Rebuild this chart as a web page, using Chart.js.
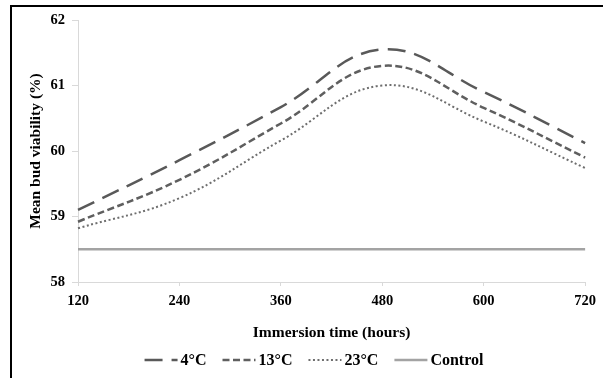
<!DOCTYPE html>
<html>
<head>
<meta charset="utf-8">
<script src="https://cdn.jsdelivr.net/npm/chart.js@4"></script>
<style>
  html, body { margin: 0; padding: 0; background: #fff; }
  #wrap { position: relative; width: 603px; height: 378px; overflow: hidden; }
  #frame { position: absolute; left: 10px; top: 5px; width: 700px; height: 500px; border-top: 2px solid #000; border-left: 2px solid #000; pointer-events: none; }
  canvas { position: absolute; left: 0; top: 0; }
</style>
</head>
<body>
<div id="wrap">
  <canvas id="c" width="603" height="378"></canvas>
  <div id="frame"></div>
</div>
<script>
const categories = ['120', '240', '360', '480', '600', '720'];
const series4 = [59.1, 59.86, 60.67, 61.55, 60.9, 60.12];
const series13 = [58.92, 59.56, 60.42, 61.3, 60.66, 59.9];
const series23 = [58.82, 59.28, 60.16, 61.0, 60.45, 59.74];
const seriesControl = [58.5, 58.5, 58.5, 58.5, 58.5, 58.5];
const seriesNames = ['4°C', '13°C', '23°C', 'Control'];
const yTicks = [58, 59, 60, 61, 62];

const serif = "'Liberation Serif', 'Times New Roman', serif";

const lineLegend = {
  id: 'lineLegend',
  afterDraw(chart, args, opts) {
    const ctx = chart.ctx;
    ctx.save();
    ctx.font = 'bold ' + opts.fontSize + 'px ' + serif;
    ctx.textBaseline = 'middle';
    ctx.textAlign = 'left';
    const items = chart.data.datasets.map(ds => ({ ds, w: ctx.measureText(ds.label).width }));
    const total = items.reduce((a, it) => a + opts.lineLen + opts.gap + it.w, 0) + opts.spacing * (items.length - 1);
    let x = opts.centerX - total / 2;
    const y = opts.y;
    items.forEach(it => {
      ctx.beginPath();
      ctx.strokeStyle = it.ds.borderColor;
      ctx.lineWidth = it.ds.borderWidth;
      ctx.setLineDash(it.ds.borderDash || []);
      ctx.lineCap = 'butt';
      ctx.moveTo(x, y);
      ctx.lineTo(x + opts.lineLen, y);
      ctx.stroke();
      ctx.setLineDash([]);
      x += opts.lineLen + opts.gap;
      ctx.fillStyle = '#000';
      ctx.fillText(it.ds.label, x, y + 1);
      x += it.w + opts.spacing;
    });
    ctx.restore();
  }
};

new Chart(document.getElementById('c'), {
  type: 'line',
  data: {
    labels: categories,
    datasets: [
      { label: seriesNames[0], data: series4, borderColor: '#595959', borderWidth: 2.5, borderDash: [18, 9], tension: 0.4, pointRadius: 0, fill: false },
      { label: seriesNames[1], data: series13, borderColor: '#5f5f5f', borderWidth: 2.5, borderDash: [7, 3.5], tension: 0.4, pointRadius: 0, fill: false },
      { label: seriesNames[2], data: series23, borderColor: '#6e6e6e', borderWidth: 2, borderDash: [2, 2.5], tension: 0.4, pointRadius: 0, fill: false },
      { label: seriesNames[3], data: seriesControl, borderColor: '#a3a3a3', borderWidth: 2.5, tension: 0, pointRadius: 0, fill: false }
    ]
  },
  options: {
    responsive: false,
    animation: false,
    layout: { padding: { left: 0, right: 16, top: 20, bottom: 36 } },
    plugins: {
      tooltip: { enabled: false },
      legend: { display: false },
      lineLegend: { fontSize: 16, lineLen: 33, gap: 3, spacing: 16, centerX: 314, y: 360 }
    },
    scales: {
      x: {
        offset: false,
        afterFit: s => { s.height = 60; },
        grid: { display: true, drawOnChartArea: false, drawTicks: true, tickLength: 4, color: '#d9d9d9' },
        border: { color: '#d9d9d9', width: 1 },
        ticks: { color: '#000', padding: 7, maxRotation: 0, font: { family: serif, size: 14.5, weight: 'bold' } },
        title: { display: true, text: 'Immersion time (hours)', color: '#000', padding: { top: 0, bottom: 0 }, font: { family: serif, size: 15.5, weight: 'bold' } }
      },
      y: {
        min: 58, max: 62,
        afterFit: s => { s.width = 78; },
        afterBuildTicks: s => { s.ticks = yTicks.map(v => ({ value: v })); },
        grid: { display: true, drawOnChartArea: false, drawTicks: true, tickLength: 6, color: '#d9d9d9' },
        border: { color: '#d9d9d9', width: 1 },
        ticks: { color: '#000', padding: 7, font: { family: serif, size: 14.5, weight: 'bold' } },
        title: { display: true, text: 'Mean bud viability (%)', color: '#000', padding: { top: 27, bottom: 0 }, font: { family: serif, size: 15.5, weight: 'bold' } }
      }
    }
  },
  plugins: [lineLegend]
});
</script>
</body>
</html>
